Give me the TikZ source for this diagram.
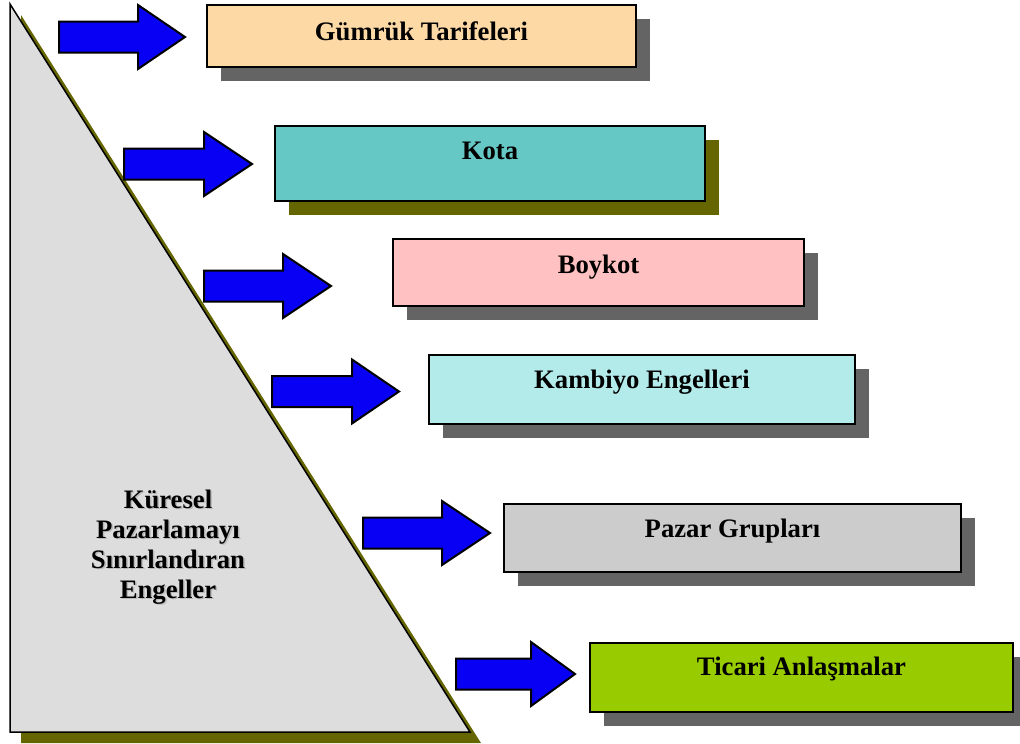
\documentclass[tikz,border=0pt]{standalone}
\usepackage{fontspec}
\setmainfont{Liberation Serif}
\usetikzlibrary{calc,shadows}
\newdimen\px \px=0.75pt
\definecolor{shgray}{RGB}{100,100,100}
\definecolor{olive}{RGB}{102,102,0}
\definecolor{arrowblue}{RGB}{8,0,245}
\definecolor{trifill}{RGB}{221,221,221}
\definecolor{c1}{RGB}{252,217,165}
\definecolor{c2}{RGB}{102,200,196}
\definecolor{c3}{RGB}{255,193,193}
\definecolor{c4}{RGB}{178,235,234}
\definecolor{c5}{RGB}{204,204,204}
\definecolor{c6}{RGB}{153,204,0}
\tikzset{
  lbl/.style={font=\fontsize{20}{22.5}\selectfont\bfseries, inner sep=0pt, anchor=base},
  barrier/.style n args={3}{draw=black, line width=2\px, fill=#1,
    minimum width=#2\px, minimum height=#3\px, inner sep=0pt, outer sep=0pt},
  grayshadow/.style={drop shadow={shadow xshift=14\px, shadow yshift=-14\px, fill=shgray, opacity=1}},
  oliveshadow/.style={drop shadow={shadow xshift=14\px, shadow yshift=-14\px, fill=olive, opacity=1}},
  blockarrow/.style={draw=black, line width=2\px, fill=arrowblue, line join=miter}
}
\begin{document}
\begin{tikzpicture}[x=\px, y=-\px]
\useasboundingbox (0,0) rectangle (1020,743);

% triangle with its olive shadow
\fill[olive] (21,15) -- (21,743) -- (481,743) -- cycle;
\draw[fill=trifill, line width=1.5\px, line join=miter] (10,4) -- (10,732) -- (470,732) -- cycle;
\node[font=\fontsize{20}{22.5}\selectfont\bfseries, align=center, inner sep=0pt, text=gray!55]
  at (169.5,548.5) {Küresel\\Pazarlamayı\\Sınırlandıran\\Engeller};
\node[font=\fontsize{20}{22.5}\selectfont\bfseries, align=center, inner sep=0pt]
  (title) at (168,547) {Küresel\\Pazarlamayı\\Sınırlandıran\\Engeller};

% barrier boxes
\node[barrier={c1}{429}{62}, grayshadow]  (b1) at (421.5,36)  {};
\node[barrier={c2}{430}{75}, oliveshadow] (b2) at (490,163.5) {};
\node[barrier={c3}{411}{67}, grayshadow]  (b3) at (598.5,272.5) {};
\node[barrier={c4}{426}{69}, grayshadow]  (b4) at (642,389.5) {};
\node[barrier={c5}{457}{68}, grayshadow]  (b5) at (732.5,538) {};
\node[barrier={c6}{423}{69}, grayshadow]  (b6) at (801.5,677.5) {};

\node[lbl] (t1) at ($(b1.north)+(0,35)$) {Gümrük Tarifeleri};
\node[lbl] (t2) at ($(b2.north)+(0,33)$) {Kota};
\node[lbl] (t3) at ($(b3.north)+(0,34)$) {Boykot};
\node[lbl] (t4) at ($(b4.north)+(0,33)$) {Kambiyo Engelleri};
\node[lbl] (t5) at ($(b5.north)+(0,33)$) {Pazar Grupları};
\node[lbl] (t6) at ($(b6.north)+(0,32)$) {Ticari Anlaşmalar};

% block arrows: tail x, head base x, tip x, centre y
\foreach \xl/\xb/\xt/\yc in {59/138/185/37, 124/204/252/164, 204/283/331/286,
                             272/352/399/391.5, 363/442/490/533, 456/531/575/674}{
  \draw[blockarrow] (\xl,\yc-15.5) -- (\xb,\yc-15.5) -- (\xb,\yc-32) -- (\xt,\yc)
    -- (\xb,\yc+32) -- (\xb,\yc+15.5) -- (\xl,\yc+15.5) -- cycle;
}
\end{tikzpicture}
\end{document}
